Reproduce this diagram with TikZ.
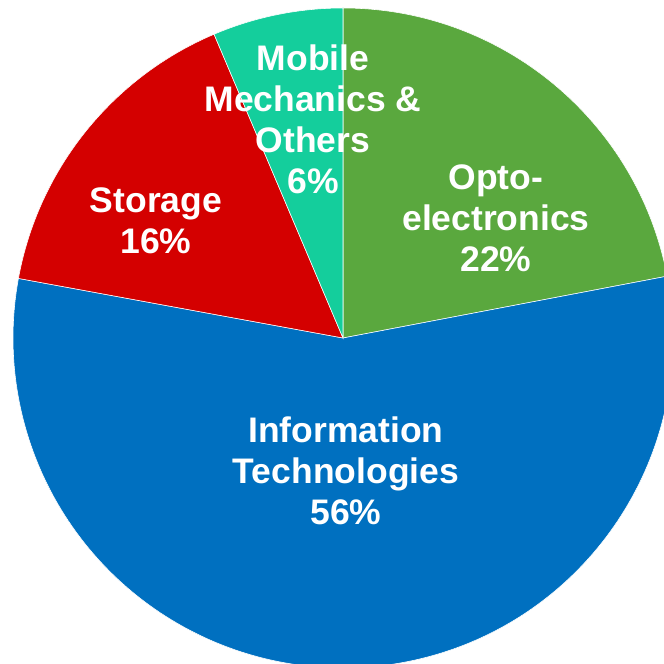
\documentclass[tikz,border=0pt]{standalone}
\usepackage{fontspec}
\setmainfont{Liberation Sans}
\usepackage{xcolor}
\usepackage{tikz}

\definecolor{optogreen}{RGB}{90,168,62}
\definecolor{infoblue}{RGB}{0,112,192}
\definecolor{storagered}{RGB}{212,0,0}
\definecolor{mobileteal}{RGB}{20,206,156}

\begin{document}
\begin{tikzpicture}[
    slice/.style={draw=white, line width=0.4pt},
    pietext/.style={text=white, align=center, inner sep=0pt, font=\fontsize{25.25}{29.2}\selectfont\bfseries}
]

% Frame of the cut-off pie
\useasboundingbox (-8.575,-8.15) rectangle (8.025,8.45);
\clip (-8.575,-8.15) rectangle (8.025,8.45);

% Pie slices
\filldraw [slice, fill=optogreen] (0,0) -- (90:8.25) arc[start angle=90, end angle=10.8, radius=8.25] -- cycle;
\filldraw [slice, fill=infoblue] (0,0) -- (10.8:8.25) arc[start angle=10.8, end angle=-190.4, radius=8.25] -- cycle;
\filldraw [slice, fill=storagered] (0,0) -- (169.6:8.25) arc[start angle=169.6, end angle=113, radius=8.25] -- cycle;
\filldraw [slice, fill=mobileteal] (0,0) -- (113:8.25) arc[start angle=113, end angle=90, radius=8.25] -- cycle;

% Slice labels
\node [pietext] (opto) at (3.825,3.0) {Opto-\\electronics\\22\%};
\node [pietext] (info) at (0.075,-3.325) {Information\\Technologies\\56\%};
\node [pietext] (storage) at (-4.675,2.925) {Storage\\16\%};
\node [pietext] (mobile) at (-0.75,5.475) {Mobile\\Mechanics \&\\Others\\6\%};

\end{tikzpicture}
\end{document}
